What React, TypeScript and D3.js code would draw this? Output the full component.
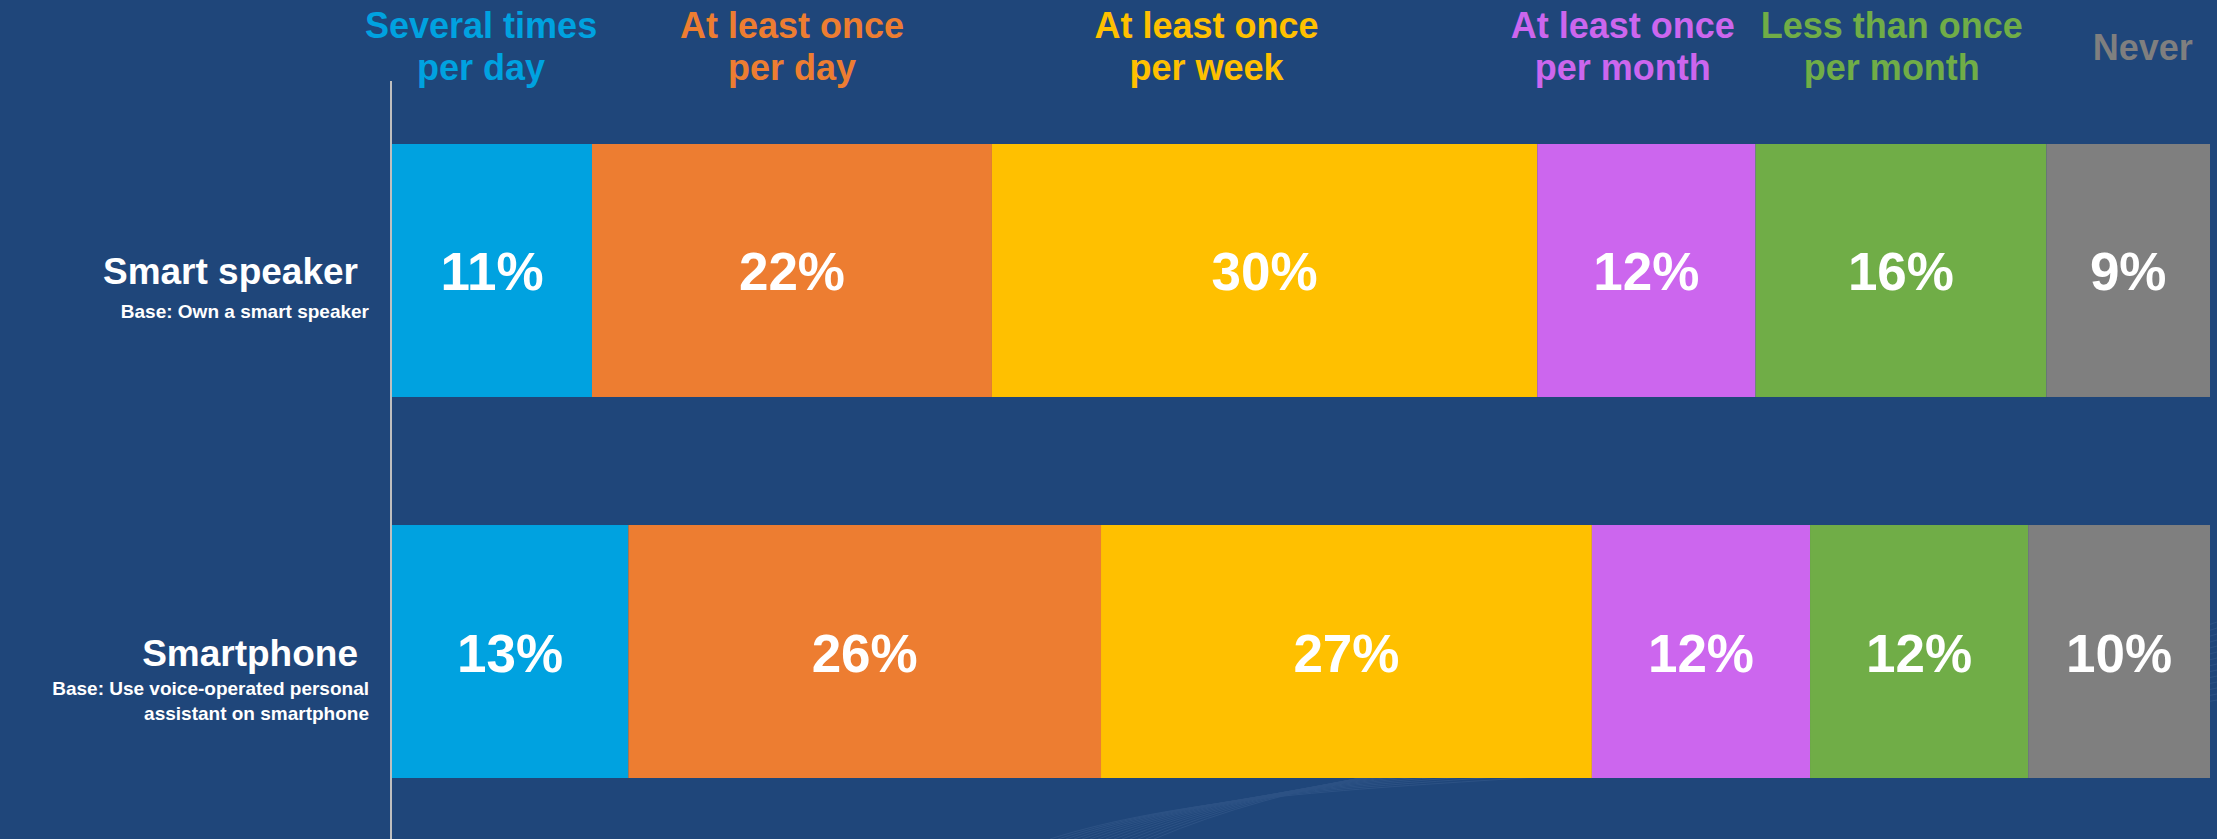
import React, { useEffect } from "react";
import * as d3 from "d3";

const categories = [
  "Several times per day",
  "At least once per day",
  "At least once per week",
  "At least once per month",
  "Less than once per month",
  "Never",
];
const headerLines = [
  ["Several times", "per day"],
  ["At least once", "per day"],
  ["At least once", "per week"],
  ["At least once", "per month"],
  ["Less than once", "per month"],
  ["Never"],
];
// header anchor positions, in percent along the bar axis
const headerAnchors = [4.9, 22.0, 44.8, 67.7, 82.5, 96.3];
const colors = ["#00A2E0", "#ED7D31", "#FFC000", "#CC66EE", "#70AD47", "#7F7F7F"];

const rows = ["Smart speaker", "Smartphone"];
const rowBases = [
  ["Base: Own a smart speaker"],
  ["Base: Use voice-operated personal", "assistant on smartphone"],
];
const smartSpeaker = [11, 22, 30, 12, 16, 9];
const smartphone = [13, 26, 27, 12, 12, 10];
const seriesValues = [smartSpeaker, smartphone];

const W = 2217;
const H = 839;
const BG = "#1F467A";
const FONT = "'Liberation Sans', Arial, sans-serif";

export default function App() {
  useEffect(() => {
    document.body.style.margin = "0";
  }, []);

  const x = d3.scaleLinear().domain([0, 100]).range([392, 2210]);
  const y = d3
    .scaleBand<string>()
    .domain(rows)
    .range([144, 778])
    .paddingInner(0.336)
    .paddingOuter(0);

  const stacks = seriesValues.map((vals) => {
    let acc = 0;
    return vals.map((v, i) => {
      const s = { x0: acc, x1: acc + v, v, i };
      acc += v;
      return s;
    });
  });

  return (
    <svg width={W} height={H} style={{ display: "block" }} fontFamily={FONT}>
      <rect x={0} y={0} width={W} height={H} fill={BG} />
      {/* faint background waves */}
      <g opacity={0.1} fill="none" stroke="#9FB8E0" strokeWidth={1}>
        {d3.range(0, 14).map((k) => (
          <path
            key={k}
            d={`M${1050 + k * 8},839 C${1300 + k * 10},${760 - k * 3} ${1700 + k * 12},${800 - k * 4} ${2217},${700 - k * 6}`}
          />
        ))}
      </g>
      {/* vertical axis line */}
      <line x1={391} x2={391} y1={81} y2={H} stroke="#BFBFBF" strokeWidth={2} />

      {/* headers */}
      {headerLines.map((lines, i) => {
        const cx = x(headerAnchors[i]);
        const single = lines.length === 1;
        return (
          <text
            key={i}
            x={cx}
            textAnchor="middle"
            fontWeight="bold"
            fontSize={36}
            fill={colors[i]}
          >
            {lines.map((ln, j) => (
              <tspan key={j} x={cx} y={single ? 60 : 38 + j * 42}>
                {ln}
              </tspan>
            ))}
          </text>
        );
      })}

      {/* bars */}
      {rows.map((r, ri) => {
        const by = y(r)!;
        const bh = y.bandwidth();
        const baseOffset = rowBases[ri].length > 1 ? 43 : 48;
        return (
          <g key={r}>
            {stacks[ri].map((s) => (
              <g key={s.i}>
                <rect
                  x={x(s.x0)}
                  y={by}
                  width={x(s.x1) - x(s.x0)}
                  height={bh}
                  fill={colors[s.i]}
                />
                <text
                  x={(x(s.x0) + x(s.x1)) / 2}
                  y={by + bh / 2 + 20}
                  textAnchor="middle"
                  fontWeight="bold"
                  fontSize={53}
                  fill="#FFFFFF"
                >
                  {s.v}%
                </text>
              </g>
            ))}
            <text
              x={358}
              y={by + bh / 2 + 14}
              textAnchor="end"
              fontWeight="bold"
              fontSize={37}
              fill="#FFFFFF"
            >
              {r}
            </text>
            <text textAnchor="end" fontWeight="bold" fontSize={19} fill="#FFFFFF">
              {rowBases[ri].map((ln, j) => (
                <tspan key={j} x={369} y={by + bh / 2 + baseOffset + j * 25}>
                  {ln}
                </tspan>
              ))}
            </text>
          </g>
        );
      })}
    </svg>
  );
}
